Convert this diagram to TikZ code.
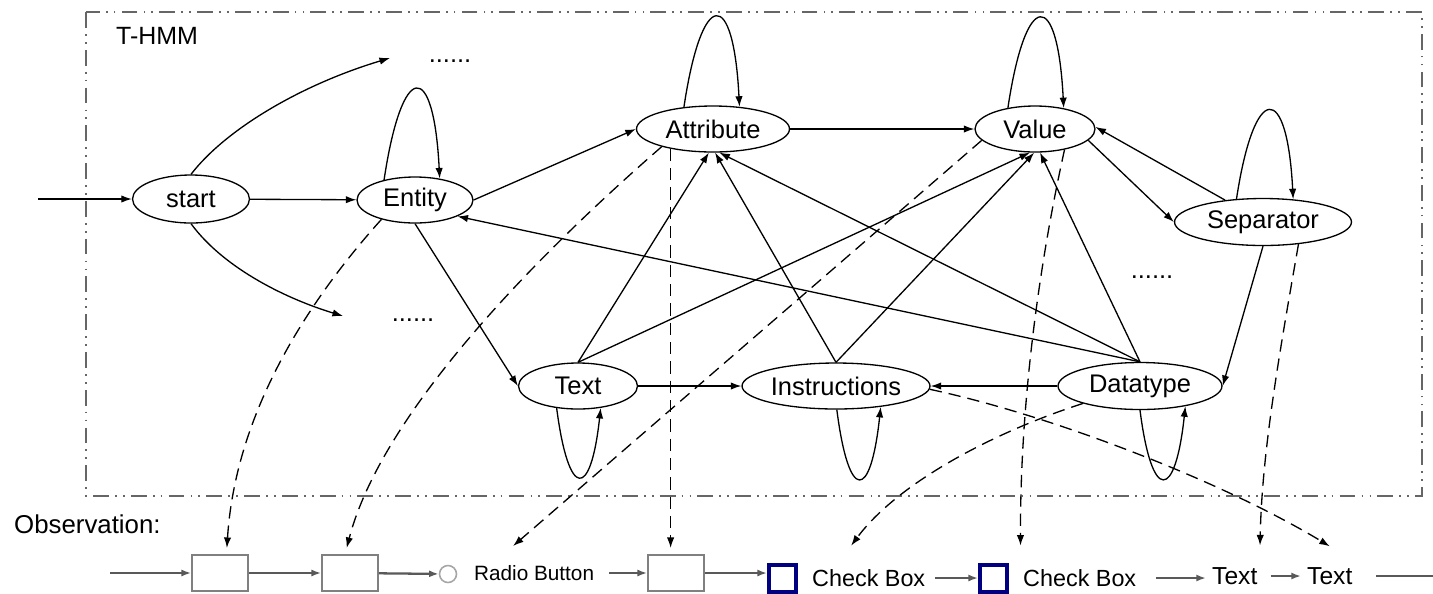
\documentclass[tikz,border=0pt]{standalone}
\usepackage{fontspec}
\setmainfont{Liberation Sans}
\usetikzlibrary{arrows.meta,shapes.geometric}

\begin{document}
\begin{tikzpicture}[x=0.02cm, y=0.02cm,
        state/.style={draw, ellipse, line width=0.75pt, inner sep=0pt, font=\fontsize{14.5}{17}\selectfont},
        trans/.style={-{Latex[length=6pt,width=4.2pt]}, line width=0.75pt},
        emit/.style={trans, dash pattern=on 7pt off 4pt},
        obsline/.style={-{Latex[length=5.5pt,width=4pt]}, line width=1.3pt, black!65},
        obsbox/.style={draw=black!50, line width=1pt, fill=white, minimum width=1.12cm, minimum height=0.72cm, inner sep=0pt},
        checkbox/.style={draw=blue!50!black, line width=2.2pt, fill=white, minimum size=0.54cm, inner sep=0pt},
        more/.style={font=\fontsize{14.5}{17}\selectfont, inner sep=0pt}]
        \clip (0,0) rectangle (1433,-593);
        % the model frame
        \draw[black!60, line width=1.1pt, dash pattern=on 9pt off 3.5pt on 1pt off 3.5pt on 1pt off 3.5pt] (86,-12) rectangle (1422,-496);
        \node[anchor=west, font=\fontsize{14.2}{17}\selectfont] (thmm) at (110,-36) {T-HMM};

        % states
        \node[state, minimum width=2.34cm, minimum height=0.96cm] (start) at (191,-199) {start};
        \node[state, minimum width=2.32cm, minimum height=0.92cm] (entity) at (415,-200) {Entity};
        \node[state, minimum width=3.06cm, minimum height=0.92cm] (attribute) at (713,-129) {Attribute};
        \node[state, minimum width=2.4cm, minimum height=0.92cm] (value) at (1035,-129) {Value};
        \node[state, minimum width=3.54cm, minimum height=0.94cm] (separator) at (1263,-222) {Separator};
        \node[state, minimum width=2.38cm, minimum height=0.92cm] (text) at (578,-386) {Text};
        \node[state, minimum width=3.76cm, minimum height=0.92cm] (instructions) at (836,-386) {Instructions};
        \node[state, minimum width=3.28cm, minimum height=0.94cm] (datatype) at (1140,-386) {Datatype};
        \node[more] (dotsA) at (450,-61) {......};
        \node[more] (dotsB) at (413,-320) {......};
        \node[more] (dotsC) at (1152,-277) {......};
        \coordinate (moreA) at (390,-58);
        \coordinate (moreB) at (343,-316);
        \coordinate (in) at (38,-199);

        % transitions
        \draw[trans] (in) -- (start);
        \draw[trans] (start) -- (entity);
        \draw[trans] (start.north) .. controls (225,-130) and (300,-85) .. (moreA);
        \draw[trans] (start.south) .. controls (225,-270) and (290,-300) .. (moreB);
        \draw[trans] (entity.east) -- (attribute.west);
        \draw[trans] (entity.south) -- (text.west);
        \draw[trans] (attribute) -- (value);
        \draw[trans] (text) -- (instructions);
        \draw[trans] (datatype) -- (instructions);
        \draw[trans] (text.north) -- (attribute.260);
        \draw[trans] (text.north) -- (value.258);
        \draw[trans] (instructions.north) -- (attribute.275);
        \draw[trans] (instructions.north) -- (value.268);
        \draw[trans] (datatype.north) -- (attribute.285);
        \draw[trans] (datatype.north) -- (value.282);
        \draw[trans] (datatype.north) -- (entity.-21);
        \draw[trans] (value.-12) -- (separator.west);
        \draw[trans] (separator.150) -- (value.2);
        \draw[trans] (separator.south) -- (datatype.east);

        % self loops
        \draw[trans] (entity.147) .. controls +(18,120) and +(-6,120) .. (entity.41);
        \draw[trans] (attribute.143) .. controls +(18,120) and +(-6,120) .. (attribute.40);
        \draw[trans] (value.142) .. controls +(18,120) and +(-6,120) .. (value.36);
        \draw[trans] (separator.139) .. controls +(18,118) and +(-6,118) .. (separator.37);
        \draw[trans] (text.226) .. controls +(12,-92) and +(-10,-92) .. (text.316);
        \draw[trans] (instructions.272) .. controls +(12,-94) and +(-10,-94) .. (instructions.335);
        \draw[trans] (datatype.270) .. controls +(12,-94) and +(-10,-94) .. (datatype.336);

        % observation sequence
        \node[anchor=west, font=\fontsize{14.7}{17}\selectfont] (obs) at (8,-524) {Observation:};
        \coordinate (obsin) at (110,-573);
        \coordinate (obsout) at (1433,-573);
        \node[obsbox] (box1) at (220,-573) {};
        \node[obsbox] (box2) at (350,-573) {};
        \node[circle, draw=black!35, line width=0.9pt, minimum size=0.34cm, inner sep=0pt] (radio) at (448,-574) {};
        \node[anchor=west, font=\fontsize{11.8}{14}\selectfont] (radiolbl) at (468,-573) {Radio Button};
        \node[obsbox] (box3) at (676,-573) {};
        \node[checkbox] (cb1) at (782.5,-578.5) {};
        \node[anchor=west, font=\fontsize{13.3}{16}\selectfont] (cblbl1) at (806,-578) {Check Box};
        \node[checkbox] (cb2) at (993.5,-578.5) {};
        \node[anchor=west, font=\fontsize{13.3}{16}\selectfont] (cblbl2) at (1017,-578) {Check Box};
        \node[anchor=west, font=\fontsize{14}{17}\selectfont] (txt1) at (1206,-576) {Text};
        \node[anchor=west, font=\fontsize{14}{17}\selectfont] (txt2) at (1301,-576) {Text};

        \draw[obsline] (obsin) -- (box1);
        \draw[obsline] (box1) -- (box2);
        \draw[obsline] (box2) -- (radio);
        \draw[obsline, shorten <=5pt] (radiolbl) -- (box3);
        \draw[obsline] (box3.east) -- (box3.east -| cb1.west);
        \draw[obsline, shorten <=2pt] (cblbl1.east) -- (cblbl1.east -| cb2.west);
        \draw[obsline, shorten <=8pt] (cblbl2.east) -- (cblbl2.east -| txt1.west);
        \draw[obsline, shorten <=4pt] (txt1.east) -- (txt2.west);
        \draw[line width=1.3pt, black!65, shorten <=10pt] (txt2.east) -- (txt2.east -| obsout);

        % emissions
        \draw[emit] (entity.210) .. controls (300,-310) and (235,-420) .. ([yshift=3.5pt]box1.70);
        \draw[emit] (attribute.199) .. controls (520,-270) and (380,-420) .. ([yshift=3.5pt]box2.100);
        \draw[emit, shorten >=3.5pt] (attribute.205) -- (attribute.205 |- box3.north);
        \draw[emit] (value.192) -- ([xshift=-12pt,yshift=7.5pt]radiolbl.north);
        \draw[emit] (value.-35) .. controls (1040,-260) and (1020,-400) .. ([xshift=2pt,yshift=10pt]cblbl2.north west);
        \draw[emit] (datatype.197) .. controls (1000,-430) and (900,-480) .. ([xshift=-10pt,yshift=10pt]cblbl1.north);
        \draw[emit] (instructions.-2) .. controls (1050,-415) and (1220,-480) .. ([yshift=8.5pt]txt2.north);
        \draw[emit] (separator.-32) .. controls (1280,-350) and (1262,-450) .. ([xshift=-2pt,yshift=9pt]txt1.north east);
    \end{tikzpicture}
\end{document}
